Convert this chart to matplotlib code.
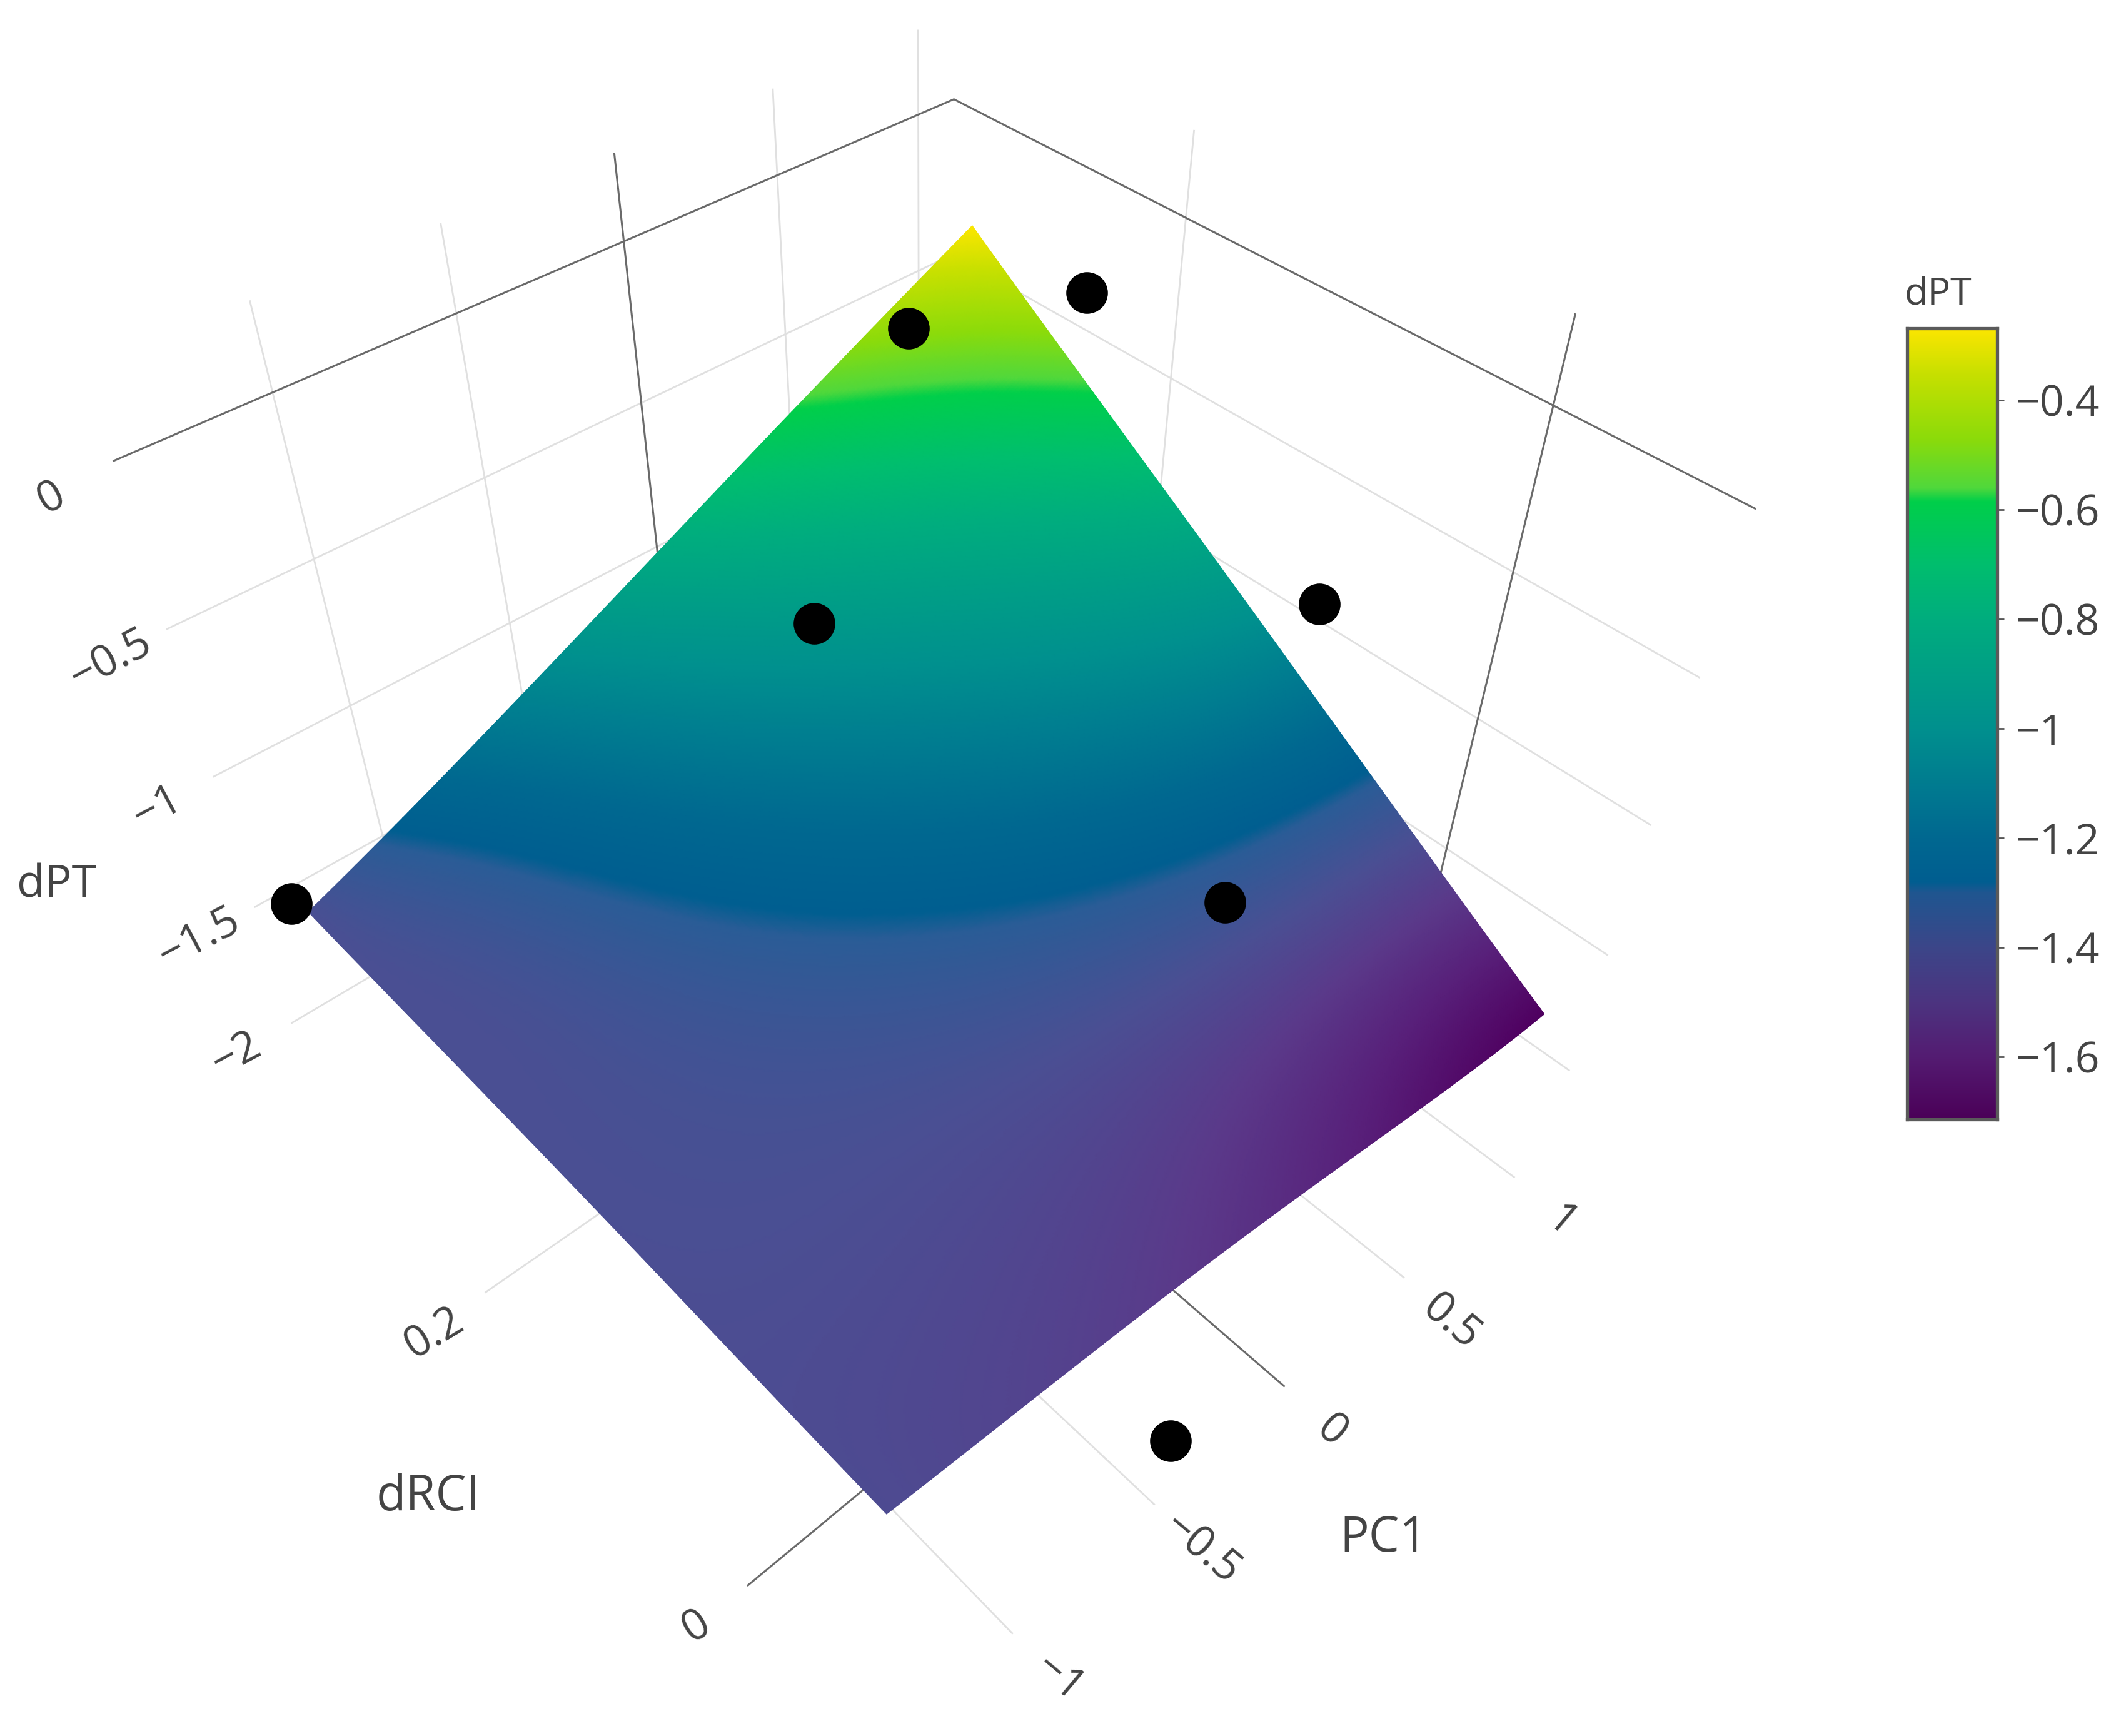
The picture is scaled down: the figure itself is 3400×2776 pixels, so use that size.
import numpy as np
import matplotlib
matplotlib.use('Agg')
import matplotlib.pyplot as plt
from matplotlib.colors import LinearSegmentedColormap, Normalize

plt.rcParams['font.family'] = ['Open Sans', 'DejaVu Sans']

# scatter points (PC1, dRCI, dPT), depth estimated
pc1_pts = [0.568, 1.017, 0.889, 0.037, 0.384, -1.373, -0.425]
drci_pts = [0.276, 0.239, 0.066, 0.239, 0.029, 0.316, -0.087]
dpt_pts = [-0.30, -0.28, -0.70, -0.90, -1.30, -1.33, -2.20]

# fitted surface, dPT
pc1_surf = [-1.334, -0.746, -0.158, 0.430, 1.018]
drci_surf = [-0.081, 0.019, 0.118, 0.218, 0.3175]
dpt_surf = [
    [-1.42, -1.47, -1.54, -1.64, -1.714],
    [-1.41, -1.41, -1.41, -1.39, -1.353],
    [-1.40, -1.36, -1.26, -1.12, -0.99],
    [-1.40, -1.29, -1.08, -0.88, -0.63],
    [-1.40, -1.13, -0.84, -0.55, -0.269],
]

# axis ranges and ticks
pc1_range = [-1.399, 1.133]
drci_range = [-0.093, 0.353]
dpt_range = [-2.39, 0.25]
pc1_ticks = [-1, -0.5, 0, 0.5, 1]
drci_ticks = [0, 0.2]
dpt_ticks = [0, -0.5, -1, -1.5, -2]
cbar_ticks = [-0.4, -0.6, -0.8, -1, -1.2, -1.4, -1.6]

# colour scale of the colourbar
scale_vals = [-0.269, -0.35, -0.47, -0.56, -0.585, -0.7, -0.8, -1.0, -1.1, -1.2, -1.28, -1.30, -1.4, -1.5, -1.6, -1.714]
scale_cols = ['#fce600', '#c8e000', '#8cdb0a', '#50d83c', '#00cf4a', '#00be6e', '#00ad7e', '#00908e',
              '#007c90', '#006890', '#005e90', '#1f5690', '#3c4689', '#4c3480', '#541c72', '#4b0058']
# same scale as lit on the surface, a little paler at the low end
surf_cols = ['#fce600', '#c8e000', '#8cdb0a', '#50d83c', '#00cf4a', '#00be6e', '#00ad7e', '#00908e',
             '#007c90', '#006890', '#005e90', '#2a5c96', '#4a4f93', '#5a3a8a', '#58207a', '#4f0060']

# camera fitted to the gridline crossings
CAM = np.array([
    [742.6838, -2022.3326, -226.0548, 1948.7212],
    [-230.8802, -1451.1174, -738.2455, 989.8813],
    [0.108746, 0.673633, -0.152968, 1.0],
])


def project(x, y, z):
    x, y, z = np.broadcast_arrays(x, y, z)
    h = np.stack([x, y, z, np.ones_like(x, dtype=float)], axis=-1) @ CAM.T
    return h[..., 0] / h[..., 2], h[..., 1] / h[..., 2]


def fmt(v):
    return f'{v:g}'.replace('-', '\u2212')


def line3d(ax, xs, ys, zs, zero=False):
    u, v = project(np.array(xs, float), np.array(ys, float), np.array(zs, float))
    if zero:
        ax.plot(u, v, color='#6a6a6a', lw=2.2, zorder=2, solid_capstyle='butt')
    else:
        ax.plot(u, v, color='#e0e0e0', lw=2.0, zorder=1, solid_capstyle='butt')


vmin, vmax = min(scale_vals), max(scale_vals)
norm = Normalize(vmin, vmax)
stops = [(v - vmin) / (vmax - vmin) for v in scale_vals]
cmap = LinearSegmentedColormap.from_list('dpt', sorted(zip(stops, scale_cols)), N=1024)
surf_cmap = LinearSegmentedColormap.from_list('dpt_lit', sorted(zip(stops, surf_cols)), N=1024)

fig = plt.figure(figsize=(34, 27.76), dpi=100)
ax = fig.add_axes([0, 0, 1, 1])
ax.set_xlim(0, 3400)
ax.set_ylim(2776, 0)
ax.axis('off')

xa, xb = pc1_range
ya, yb = drci_range
za, zb = dpt_range

# gridlines on the two back walls and the floor
for z in dpt_ticks:
    line3d(ax, [xa, xb, xb], [yb, yb, ya], [z, z, z], zero=z == 0)
for x in pc1_ticks:
    line3d(ax, [x, x, x], [ya, yb, yb], [za, za, zb], zero=x == 0)
for y in drci_ticks:
    line3d(ax, [xa, xb, xb], [y, y, y], [za, za, zb], zero=y == 0)

# surface
sx = np.array(pc1_surf)
sy = np.array(drci_surf)
sz = np.array(dpt_surf)
vx = np.vander(sx, 5)
vy = np.vander(sy, 5)
coef = np.linalg.solve(vy, np.linalg.solve(vx, sz.T).T)
fx = np.linspace(sx[0], sx[-1], 300)
fy = np.linspace(sy[0], sy[-1], 300)
fz = np.vander(fy, 5) @ coef @ np.vander(fx, 5).T
gx, gy = np.meshgrid(fx, fy)
u, v = project(gx, gy, fz)
ax.pcolormesh(u, v, fz, shading='gouraud', cmap=surf_cmap, norm=norm, zorder=3)

# points
u, v = project(np.array(pc1_pts), np.array(drci_pts), np.array(dpt_pts))
ax.scatter(u, v, s=2300, color='black', linewidths=0, zorder=5)

# tick labels sit at a fixed offset from the gridline ends
TXT = '#444444'
for z in dpt_ticks:
    u, v = project(xa, yb, z)
    ax.text(u - 88 - (10 if z == 0 else 0), v + 50 + (10 if z == 0 else 0), fmt(z), color=TXT, fontsize=50, rotation=28,
            ha='center', va='center', rotation_mode='anchor')
for x in pc1_ticks:
    u, v = project(x, ya, za)
    ax.text(u + 74, v + 72, fmt(x), color=TXT, fontsize=50, rotation=-40,
            ha='center', va='center', rotation_mode='anchor')
for y in drci_ticks:
    u, v = project(xa, y, za)
    ax.text(u - 81, v + 66, fmt(y), color=TXT, fontsize=50, rotation=31,
            ha='center', va='center', rotation_mode='anchor')

ax.text(91, 1416, 'dPT', color=TXT, fontsize=52, ha='center', va='center')
ax.text(685, 2394, 'dRCI', color=TXT, fontsize=56, ha='center', va='center')
ax.text(2213, 2460, 'PC1', color=TXT, fontsize=56, ha='center', va='center')

# colourbar
cax = fig.add_axes([3050 / 3400, 1 - 1790 / 2776, 144 / 3400, 1265 / 2776])
grad = np.linspace(vmin, vmax, 1024).reshape(-1, 1)
cax.imshow(grad, aspect='auto', origin='lower', extent=[0, 1, vmin, vmax], cmap=cmap, norm=norm)
cax.set_xticks([])
cax.yaxis.tick_right()
cax.set_yticks(cbar_ticks)
cax.set_yticklabels([fmt(t) for t in cbar_ticks], fontsize=49, color=TXT)
cax.tick_params(axis='y', length=8, width=2, color='#555555', pad=13)
for s in cax.spines.values():
    s.set_color('#5a5a5a')
    s.set_linewidth(3.8)
ax.text(3100, 470, 'dPT', color=TXT, fontsize=44, ha='center', va='center')

fig.savefig('out.png', dpi=100)
